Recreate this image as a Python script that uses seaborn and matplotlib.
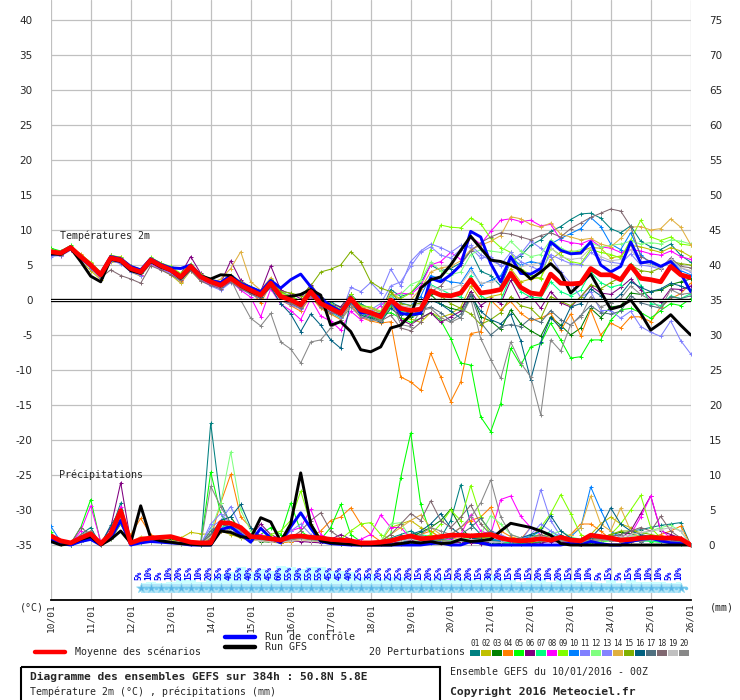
import matplotlib
matplotlib.use("Agg")
import matplotlib.pyplot as plt
from matplotlib.patches import Rectangle
import numpy as np
import seaborn as sns

# 6-hourly steps from 10/01 00Z to 26/01 00Z
steps = np.arange(65)
days = ["10/01", "11/01", "12/01", "13/01", "14/01", "15/01", "16/01", "17/01", "18/01",
        "19/01", "20/01", "21/01", "22/01", "23/01", "24/01", "25/01", "26/01"]

mean_t = [6.9, 6.7, 7.5, 6.2, 5.0, 3.6, 6.0, 5.7, 4.5, 4.0,
          5.7, 4.9, 4.3, 3.3, 4.8, 3.3, 2.6, 2.1, 3.1, 2.1,
          1.4, 0.7, 2.4, 0.5, 0.0, -0.7, 1.2, -0.5, -1.2, -1.9,
          0.2, -1.4, -1.8, -2.4, 0.0, -1.2, -1.5, -1.3, 1.3, 0.7,
          0.6, 1.0, 2.9, 1.0, 1.2, 1.5, 3.8, 1.8, 1.0, 0.8,
          3.7, 2.4, 2.3, 2.4, 4.5, 3.6, 3.6, 2.9, 4.9, 3.1,
          2.9, 2.6, 4.8, 3.6, 3.2]
ctrl_t = [6.5, 6.8, 7.6, 6.0, 4.9, 3.8, 6.2, 5.9, 4.8, 4.3,
          5.9, 5.1, 4.6, 4.5, 5.0, 3.5, 2.8, 2.5, 3.5, 2.4,
          1.8, 1.2, 2.8, 1.7, 2.9, 3.7, 1.9, 0.2, -0.8, -1.6,
          0.4, -1.8, -1.9, -2.1, 0.0, -1.9, -2.1, -1.9, 3.1, 2.6,
          3.6, 5.0, 9.8, 9.0, 5.2, 2.6, 6.2, 3.8, 3.7, 4.5,
          8.3, 7.1, 6.6, 6.7, 8.3, 5.0, 4.0, 4.8, 8.3, 5.3,
          5.5, 4.8, 5.5, 3.8, 1.2]
gfs_t = [6.6, 6.5, 7.4, 5.5, 3.4, 2.6, 5.8, 5.5, 4.2, 3.8,
         5.5, 4.7, 4.2, 3.1, 4.6, 3.4, 3.0, 3.6, 3.5, 2.0,
         1.2, 0.6, 2.2, 0.4, 0.5, 0.8, 1.5, 0.7, -3.6, -3.1,
         -4.5, -7.1, -7.4, -6.7, -4.0, -3.6, -2.1, 1.7, 2.9, 3.3,
         5.0, 7.1, 9.1, 7.4, 5.7, 5.5, 5.0, 4.3, 3.0, 4.0,
         5.2, 3.8, 1.0, 2.4, 3.7, 1.2, -1.3, -0.9, 0.0, -1.9,
         -4.3, -3.3, -2.1, -3.6, -5.0]

mean_p = [1.3, 0.6, 0.3, 1.0, 1.6, 0.2, 1.6, 4.9, 0.3, 0.8,
          1.0, 1.1, 1.2, 0.8, 0.4, 0.3, 0.3, 3.2, 3.1, 2.5,
          1.2, 1.1, 0.9, 0.7, 1.2, 1.3, 1.1, 1.0, 0.8, 0.7,
          0.6, 0.3, 0.3, 0.4, 0.6, 1.0, 1.3, 0.9, 1.0, 1.2,
          1.4, 1.4, 1.3, 1.4, 1.5, 1.0, 0.7, 0.6, 0.7, 0.9,
          0.7, 1.1, 0.7, 0.6, 1.4, 1.2, 1.0, 0.7, 0.8, 1.0,
          1.1, 1.0, 1.0, 0.9, 0.0]
ctrl_p = [0.8, 0.2, 0.0, 0.5, 0.8, 0.0, 1.0, 3.5, 0.0, 0.3,
          0.5, 0.4, 0.3, 0.2, 0.0, 0.0, 0.0, 2.2, 2.6, 1.5,
          0.4, 2.4, 1.0, 0.3, 2.6, 4.6, 2.4, 0.5, 0.2, 0.1,
          0.0, 0.0, 0.0, 0.0, 0.0, 0.0, 0.0, 0.0, 0.2, 0.3,
          0.0, 0.0, 0.5, 0.3, 0.0, 0.0, 0.0, 0.0, 0.0, 0.0,
          0.0, 0.0, 0.3, 0.0, 0.5, 0.2, 0.0, 0.0, 0.5, 0.8,
          1.0, 0.6, 0.3, 0.2, 0.0]
gfs_p = [0.5, 0.0, 0.2, 0.8, 1.2, 0.0, 0.8, 2.0, 0.3, 5.6,
         1.0, 0.6, 0.4, 0.2, 0.1, 0.0, 0.0, 2.0, 1.8, 1.2,
         1.0, 3.9, 3.3, 0.5, 3.0, 10.3, 3.0, 0.6, 0.3, 0.2,
         0.1, 0.0, 0.0, 0.0, 0.0, 0.2, 0.4, 0.3, 0.5, 0.2,
         0.3, 0.8, 0.5, 0.6, 0.8, 2.0, 3.1, 2.8, 2.5, 2.0,
         1.4, 0.2, 0.0, 0.0, 0.0, 0.0, 0.0, 0.0, 0.0, 0.0,
         0.0, 0.0, 0.0, 0.0, 0.0]

# 20 perturbations, temperature 2m (°C)
t01 = [7.0, 6.6, 7.3, 6.0, 4.8, 3.4, 5.8, 5.9, 4.6, 4.2,
       5.5, 4.6, 4.4, 3.6, 4.9, 3.6, 2.9, 2.4, 3.4, 2.6,
       1.9, 1.3, 2.9, 1.1, 0.6, -0.2, 1.6, 0.4, -0.3, -1.0,
       0.8, -0.6, -1.2, -1.8, 1.5, 0.5, 1.0, 2.4, 5.0, 4.2,
       4.5, 5.3, 7.0, 4.1, 3.5, 2.0, 5.5, 6.3, 7.8, 8.6,
       9.8, 10.5, 11.5, 12.3, 12.4, 11.7, 10.2, 9.6, 10.6, 8.4,
       7.6, 7.2, 8.0, 6.4, 5.4]
t02 = [6.6, 6.4, 7.2, 5.6, 4.2, 2.9, 5.5, 5.3, 4.0, 3.4,
       5.2, 4.4, 3.6, 2.4, 4.2, 2.7, 2.3, 2.0, 2.8, 1.8,
       1.1, 0.3, 2.0, 0.1, -0.5, -1.0, 0.8, -0.6, -1.4, -2.2,
       -0.2, -1.5, -2.2, -2.8, -1.0, -2.6, -2.7, -3.2, -1.8, -2.5,
       -2.0, -1.0, 2.0, 0.0, 0.5, 0.8, 4.5, 2.6, 3.0, 3.2,
       5.8, 6.8, 7.0, 6.9, 7.5, 7.4, 6.0, 6.3, 7.8, 7.6,
       7.2, 6.8, 7.5, 7.0, 6.2]
t03 = [7.2, 6.9, 7.6, 6.4, 5.3, 3.9, 6.3, 5.8, 4.7, 4.1,
       5.9, 5.0, 4.5, 3.5, 4.9, 3.2, 2.5, 2.0, 3.3, 2.3,
       1.5, 0.9, 2.6, 0.6, -0.2, -1.0, 0.9, -0.9, -1.6, -2.4,
       -0.4, -2.0, -2.4, -3.0, -0.6, -1.8, -2.4, -2.0, 0.8, -0.6,
       -1.2, -1.5, 1.2, -2.4, -3.0, -4.2, -1.4, -3.4, -4.4, -5.2,
       -2.4, -3.6, -5.0, -4.0, -1.2, -2.5, -1.0, -0.8, 1.0, 0.8,
       1.2, 1.4, 2.2, 2.6, 3.0]
t04 = [6.8, 6.8, 7.4, 6.6, 5.3, 3.8, 6.1, 6.2, 4.3, 3.6,
       5.6, 4.7, 4.0, 2.7, 4.6, 3.0, 2.1, 1.8, 2.7, 1.5,
       1.3, -0.4, 2.2, 0.0, -0.8, -1.6, 0.5, -1.2, -2.0, -2.8,
       -0.6, -2.5, -3.0, -3.3, -3.1, -11.0, -11.7, -12.9, -7.6, -11.0,
       -14.5, -11.7, -4.8, -4.5, 0.0, -1.4, -0.2, -1.9, -2.9, -2.6,
       -1.9, -4.3, -2.0, -5.1, -1.4, -5.0, -3.3, -4.0, -2.4, -2.4,
       -3.1, -1.0, 0.2, 0.9, 2.4]
t05 = [7.4, 7.0, 7.8, 6.3, 5.1, 3.7, 6.2, 5.6, 4.6, 4.1,
       5.8, 5.0, 4.5, 3.4, 4.9, 3.4, 2.8, 2.3, 3.4, 2.4,
       1.6, 1.0, 2.9, 0.8, 0.4, -0.3, 1.5, -0.1, -0.8, -1.4,
       0.6, -1.0, -1.6, -2.2, -1.8, -2.6, -3.2, -2.6, -1.8, -2.9,
       -5.5, -9.0, -9.3, -16.7, -18.8, -14.8, -6.9, -9.3, -6.7, -6.2,
       -3.3, -5.7, -8.3, -8.1, -5.7, -5.7, -2.9, -1.4, -1.2, -1.8,
       -2.6, -1.5, -0.5, -0.8, 0.2]
t06 = [6.9, 6.8, 7.5, 6.3, 5.2, 3.9, 6.4, 6.0, 4.8, 4.4,
       6.0, 5.3, 4.6, 3.7, 6.2, 3.8, 2.9, 2.4, 5.6, 2.8,
       1.8, 1.2, 4.9, 1.4, 0.9, 0.2, 2.2, 0.4, -0.6, -1.0,
       0.8, -1.2, -1.6, -2.0, 0.4, -2.8, -3.5, -2.6, -1.8, -3.2,
       -2.4, -1.6, 1.2, -0.8, 0.2, -0.5, 2.8, 0.0, 0.6, -1.2,
       1.2, -0.4, -1.0, 0.5, 2.0, 1.0, 0.8, 1.8, 3.0, 1.5,
       0.2, -0.3, 1.6, 1.5, 2.0]
t07 = [6.7, 6.5, 7.3, 6.1, 4.9, 3.5, 5.9, 5.6, 4.4, 3.9,
       5.6, 4.8, 4.2, 3.2, 4.7, 3.2, 2.5, 2.0, 3.0, 2.0,
       1.2, 0.4, 2.2, 0.3, -0.3, -1.2, 0.8, -1.0, -1.8, -2.6,
       -0.3, -1.9, -2.3, -2.9, -0.8, -1.5, -1.9, -1.2, 2.2, 1.5,
       0.8, 0.4, 3.5, 0.6, -0.2, 0.0, 3.4, 1.2, 0.4, 0.3,
       2.6, 1.2, 0.6, 1.4, 4.0, 2.5, 1.8, 2.2, 5.2, 2.0,
       -0.5, -0.8, 0.6, 0.2, 0.9]
t08 = [6.5, 6.3, 7.2, 5.9, 4.6, 3.1, 5.6, 5.3, 4.1, 3.6,
       5.2, 4.4, 3.9, 2.8, 4.3, 2.9, 2.2, 1.6, 2.7, 1.4,
       0.4, -2.4, 1.6, -0.6, -1.5, -2.8, 0.2, -2.3, -3.0, -4.3,
       -1.6, -2.8, -2.0, -0.8, 0.5, 1.0, 0.8, 2.0, 5.0, 5.5,
       6.8, 5.8, 9.0, 8.0, 9.8, 11.4, 11.6, 11.2, 11.4, 10.6,
       10.8, 8.6, 8.2, 8.0, 8.6, 7.6, 7.4, 6.8, 7.2, 7.0,
       6.6, 6.4, 7.0, 6.2, 5.8]
t09 = [7.1, 6.9, 7.7, 6.5, 5.4, 4.0, 6.4, 6.1, 4.9, 4.4,
       6.1, 5.3, 4.8, 3.8, 5.2, 3.7, 3.0, 2.6, 3.6, 2.6,
       1.9, 1.2, 3.0, 1.0, 0.6, -0.2, 1.8, 0.1, -0.6, -1.3,
       0.8, -0.8, -1.0, -1.6, 0.8, 0.2, 1.0, 2.8, 7.2, 10.7,
       10.4, 10.3, 11.7, 10.9, 8.8, 7.5, 6.8, 4.5, 3.6, 3.0,
       7.4, 6.4, 5.5, 5.2, 7.2, 6.8, 6.5, 6.0, 8.6, 11.4,
       9.0, 8.5, 9.0, 8.0, 7.8]
t10 = [6.6, 6.6, 7.4, 6.2, 5.0, 3.7, 6.1, 5.8, 4.6, 4.0,
       5.8, 5.0, 4.4, 3.4, 4.9, 3.4, 2.7, 2.2, 3.2, 2.2,
       1.5, 0.8, 2.5, 0.6, 0.1, -0.6, 1.3, -0.4, -1.1, -1.8,
       0.3, -1.3, -1.7, -2.3, 0.6, -0.4, -0.8, 0.5, 3.5, 3.0,
       2.6, 2.4, 4.6, 2.2, 2.8, 3.5, 6.0, 5.0, 5.5, 5.2,
       8.0, 8.8, 9.5, 10.2, 11.8, 10.5, 8.0, 7.2, 9.6, 6.5,
       5.2, 4.6, 5.8, 4.2, 3.6]
t11 = [6.4, 6.3, 7.1, 5.8, 4.5, 3.2, 5.6, 5.2, 4.0, 3.5,
       5.3, 4.5, 3.8, 2.6, 4.4, 2.8, 2.0, 1.4, 2.5, 1.6,
       0.8, 0.2, 1.8, 0.0, -0.7, -1.3, 0.6, -0.8, -1.5, -2.2,
       1.8, 1.2, 2.5, 1.0, 4.4, 2.0, 5.5, 7.0, 8.0, 7.5,
       6.8, 7.8, 7.5, 6.0, 6.2, 4.8, 5.5, 6.6, 8.4, 7.4,
       6.2, 4.0, 2.4, 0.4, 1.2, -1.5, -1.5, -2.6, -1.6, -3.8,
       -4.6, -5.2, -3.0, -5.8, -7.7]
t12 = [7.0, 6.7, 7.5, 6.3, 5.1, 3.6, 6.0, 5.8, 4.6, 4.1,
       5.7, 5.0, 4.4, 3.4, 4.8, 3.4, 2.7, 2.1, 3.2, 2.2,
       1.5, 0.8, 2.4, 0.6, 0.0, -0.6, 1.3, -0.4, -1.1, -1.8,
       0.2, -1.2, -1.5, -1.9, 0.5, 0.8, 2.2, 2.8, 5.4, 4.2,
       3.6, 4.0, 6.5, 7.2, 7.0, 6.8, 8.4, 7.0, 6.2, 6.5,
       8.6, 7.4, 6.8, 7.2, 8.2, 7.6, 7.8, 8.0, 8.4, 8.0,
       8.2, 8.0, 8.6, 8.4, 8.0]
t13 = [6.2, 6.4, 7.3, 6.0, 4.7, 3.3, 5.8, 5.5, 4.3, 3.8,
       5.5, 4.7, 4.1, 3.0, 4.5, 3.0, 2.3, 1.8, 2.9, 1.9,
       1.1, 0.4, 2.1, 0.2, -0.5, -1.2, 0.7, -0.9, -1.7, -2.5,
       -0.4, -2.0, -1.4, -0.5, 2.0, 2.6, 4.8, 6.8, 7.6, 6.4,
       6.0, 7.2, 7.8, 6.5, 5.6, 5.0, 6.8, 5.5, 4.8, 4.2,
       6.5, 5.8, 5.2, 5.0, 6.8, 5.8, 5.4, 5.2, 6.6, 5.0,
       4.8, 4.4, 6.0, 4.6, 4.0]
t14 = [7.1, 6.9, 7.6, 6.5, 5.3, 3.9, 6.2, 5.9, 4.7, 4.2,
       5.8, 5.0, 4.5, 2.6, 5.0, 3.3, 2.4, 3.0, 4.5, 6.9,
       2.6, 1.4, 3.2, 0.9, 0.4, -0.3, 1.6, 0.0, -0.8, -1.5,
       0.4, -1.0, -1.2, -1.8, 1.2, 0.0, 0.0, 1.6, 4.0, 4.6,
       4.8, 5.6, 7.2, 7.8, 8.4, 9.2, 11.9, 11.6, 10.8, 10.4,
       11.0, 9.4, 9.0, 8.6, 8.8, 8.0, 7.6, 8.8, 10.4, 10.5,
       10.0, 10.2, 11.6, 10.4, 7.9]
t15 = [6.8, 6.5, 7.3, 6.0, 4.8, 3.5, 5.9, 5.6, 4.4, 3.9,
       5.6, 4.8, 4.2, 3.2, 4.6, 3.2, 2.6, 2.2, 3.3, 2.5,
       1.8, 1.1, 2.9, 1.2, 1.0, 0.6, 2.0, 4.0, 4.4, 5.0,
       6.9, 5.5, 2.6, 1.7, 1.2, -0.5, -0.8, -0.4, 1.5, 0.6,
       -0.5, -1.2, -2.0, -3.5, -2.8, -1.8, 0.5, -0.8, -1.2, -2.6,
       0.5, -0.2, -0.8, 0.4, 2.2, 1.6, 2.5, 3.2, 5.0, 4.2,
       4.0, 4.6, 5.5, 5.2, 5.0]
t16 = [6.9, 6.7, 7.4, 6.1, 4.8, 3.4, 5.9, 5.5, 4.3, 3.8,
       5.6, 4.8, 4.1, 3.2, 4.6, 3.1, 2.4, 1.9, 2.9, 1.9,
       1.2, 0.5, 1.8, -0.5, -2.0, -4.5, -2.0, -3.6, -5.7, -6.9,
       -0.2, -2.2, -2.6, -3.2, -1.2, -2.2, -1.6, -1.8, 0.0, -0.6,
       -1.6, -2.6, 0.6, -1.6, -2.8, -3.4, -2.0, -5.8, -11.4, -6.0,
       -2.5, -4.0, -1.0, -0.5, 1.6, 0.6, -0.4, 0.8, 2.6, 1.8,
       1.2, 1.6, 2.4, 2.0, 1.4]
t17 = [6.7, 6.6, 7.4, 6.2, 5.0, 3.6, 6.0, 5.7, 4.5, 4.0,
       5.7, 4.9, 4.3, 3.3, 4.8, 3.3, 2.6, 2.1, 3.1, 2.1,
       1.4, 0.7, 2.3, 0.4, -0.1, -0.9, 1.0, -0.7, -1.4, -2.2,
       -0.3, -1.8, -1.8, -2.3, -0.6, -2.0, -2.2, -1.4, -1.0, -1.8,
       -3.0, -2.0, 0.8, -3.2, -5.0, -3.8, -3.5, -3.8, -2.6, -3.2,
       -1.5, -2.8, -3.6, -2.2, -0.8, -1.8, -2.0, -1.6, 0.6, -0.4,
       -0.8, -1.2, 0.5, 0.2, 0.6]
t18 = [6.6, 6.5, 7.3, 5.9, 4.6, 3.2, 4.3, 3.5, 3.0, 2.4,
       4.9, 4.3, 3.6, 2.8, 4.2, 2.7, 2.1, 1.6, 2.6, 1.6,
       0.9, 0.2, 1.9, 0.1, -0.5, -1.2, 0.7, -1.0, -1.8, -2.0,
       0.0, -1.5, -2.2, -3.0, -2.2, -4.0, -4.4, -3.2, 1.2, 2.0,
       3.8, 5.0, 7.0, 8.2, 9.0, 9.6, 9.4, 9.0, 8.6, 9.2,
       9.6, 9.0, 10.2, 11.0, 11.8, 12.4, 13.0, 12.7, 10.5, 6.2,
       5.5, 4.5, 6.0, 4.8, 4.6]
t19 = [7.0, 6.8, 7.6, 6.3, 5.1, 3.7, 6.1, 5.8, 4.6, 4.1,
       5.8, 5.0, 4.4, 3.4, 4.9, 3.4, 2.7, 2.2, 3.2, 2.2,
       1.5, 0.8, 2.5, 0.6, 0.1, -0.6, 1.3, -0.4, -1.1, -1.8,
       0.3, -1.3, -1.6, -2.2, 0.2, -0.8, -1.0, -0.6, 2.0, 1.4,
       1.6, 2.2, 4.2, 2.4, 2.6, 3.0, 5.4, 4.8, 5.0, 5.4,
       7.5, 6.2, 5.8, 6.0, 7.4, 6.2, 5.6, 5.8, 7.2, 5.4,
       5.0, 4.6, 5.8, 4.6, 4.2]
t20 = [6.8, 6.6, 7.6, 6.2, 4.9, 3.5, 5.9, 5.6, 4.4, 3.9,
       5.6, 4.8, 4.2, 3.2, 4.7, 3.2, 2.5, 2.0, 3.0, 0.0,
       -2.6, -3.7, -1.9, -6.0, -7.0, -9.0, -6.0, -5.7, -4.0, -2.9,
       -1.0, -2.4, -2.8, -3.0, 0.0, -3.5, -3.8, -1.5, -1.2, -2.5,
       -3.2, -2.5, 0.2, -5.5, -8.5, -11.2, -6.0, -9.0, -11.0, -16.4,
       -5.7, -7.3, -3.5, -2.4, 0.5, -1.0, -0.4, 0.2, 2.0, 0.8,
       0.0, -1.2, 1.5, 0.8, 1.0]

# 20 perturbations, precipitation per 6h (mm)
p01 = [1.2, 0.4, 0.2, 1.5, 2.5, 0.0, 2.0, 6.0, 0.2, 0.5,
       0.8, 1.2, 1.0, 0.5, 0.2, 0.0, 17.4, 6.0, 3.0, 1.5,
       0.8, 1.5, 0.8, 0.5, 0.6, 1.0, 0.8, 0.5, 0.4, 0.3,
       0.2, 0.1, 0.2, 0.5, 1.0, 1.5, 2.0, 1.2, 0.6, 1.0,
       3.5, 8.6, 3.0, 1.5, 1.0, 0.5, 0.3, 0.4, 0.2, 0.5,
       0.8, 1.5, 0.6, 0.4, 1.0, 0.8, 1.2, 1.5, 2.0, 2.2,
       2.5, 2.8, 3.0, 3.2, 0.0]
p02 = [1.0, 0.3, 0.1, 0.6, 1.0, 0.1, 1.2, 3.5, 0.2, 0.6,
       0.8, 0.6, 0.5, 1.0, 1.8, 1.6, 1.5, 2.0, 1.5, 1.0,
       0.6, 0.8, 0.5, 0.3, 0.5, 0.8, 0.6, 0.4, 0.3, 0.2,
       0.1, 0.0, 0.1, 0.5, 2.5, 3.0, 3.5, 2.5, 2.0, 1.0,
       0.5, 0.8, 1.5, 1.0, 0.6, 0.4, 0.3, 0.8, 1.2, 1.5,
       1.0, 0.5, 0.3, 0.2, 1.5, 3.0, 4.0, 3.0, 2.5, 1.5,
       1.0, 0.8, 0.5, 0.3, 0.0]
p03 = [1.5, 0.2, 0.0, 1.2, 2.0, 0.2, 1.5, 4.5, 0.1, 0.6,
       1.2, 1.0, 0.8, 0.6, 0.2, 0.1, 1.2, 3.5, 4.0, 2.0,
       1.0, 0.5, 0.4, 0.3, 0.8, 1.2, 0.8, 0.5, 0.3, 0.2,
       0.2, 0.1, 0.2, 0.3, 0.2, 0.5, 1.2, 1.8, 2.5, 3.5,
       5.1, 2.5, 1.0, 0.5, 0.3, 0.2, 0.1, 0.2, 0.5, 0.8,
       0.6, 0.4, 0.3, 0.2, 0.5, 1.0, 1.5, 1.8, 1.6, 1.2,
       1.0, 0.8, 0.6, 0.4, 0.0]
p04 = [0.8, 0.2, 0.1, 0.5, 1.0, 0.0, 1.0, 3.0, 1.5, 3.8,
       1.5, 0.8, 0.5, 0.3, 0.2, 0.2, 1.0, 6.0, 10.1, 4.0,
       2.5, 0.8, 0.5, 0.3, 0.5, 1.0, 1.2, 2.0, 3.5, 4.0,
       5.3, 3.0, 1.5, 0.5, 0.3, 0.2, 0.8, 1.5, 2.0, 1.0,
       1.5, 2.5, 3.5, 4.0, 5.4, 2.0, 1.2, 0.8, 2.5, 2.0,
       1.0, 0.8, 1.5, 3.0, 3.0, 2.0, 0.8, 0.5, 0.5, 0.8,
       1.0, 1.5, 2.0, 2.7, 0.0]
p05 = [1.8, 0.3, 0.2, 2.5, 6.5, 0.3, 1.5, 4.0, 0.2, 0.5,
       0.8, 0.6, 0.4, 0.3, 0.2, 0.1, 10.4, 4.5, 2.0, 1.2,
       0.8, 1.5, 2.5, 1.5, 6.0, 2.0, 1.0, 0.8, 2.5, 5.8,
       1.5, 0.5, 0.3, 0.5, 1.5, 9.6, 16.0, 5.8, 1.5, 0.8,
       0.5, 0.3, 0.8, 1.2, 0.6, 0.4, 0.5, 0.3, 0.2, 0.4,
       0.8, 1.2, 0.6, 0.4, 0.3, 0.5, 0.6, 0.8, 1.0, 0.8,
       0.5, 0.4, 0.3, 0.2, 0.0]
p06 = [1.0, 0.2, 0.0, 0.8, 1.5, 0.2, 2.5, 8.9, 0.5, 0.4,
       0.6, 0.5, 0.4, 0.3, 0.1, 0.0, 0.8, 2.5, 2.0, 1.5,
       1.2, 3.0, 1.5, 0.8, 0.6, 0.5, 0.4, 0.3, 0.8, 1.5,
       0.8, 0.3, 0.1, 0.2, 0.3, 0.4, 0.6, 0.8, 0.5, 0.3,
       0.2, 0.4, 0.3, 0.2, 0.5, 0.8, 0.6, 0.4, 0.2, 0.3,
       0.5, 0.4, 0.3, 0.2, 0.4, 0.6, 0.8, 1.0, 2.0, 4.5,
       7.0, 2.0, 1.5, 1.0, 0.0]
p07 = [0.6, 0.1, 0.0, 0.4, 0.8, 0.1, 0.8, 3.0, 0.2, 0.3,
       0.5, 0.4, 0.3, 0.2, 0.1, 0.0, 1.5, 2.5, 3.0, 1.8,
       1.0, 0.8, 0.6, 0.5, 0.8, 1.5, 1.2, 0.8, 0.5, 0.3,
       0.2, 0.1, 0.1, 0.2, 0.5, 0.8, 1.0, 1.5, 1.2, 0.8,
       0.6, 0.8, 1.0, 1.2, 0.8, 0.5, 0.3, 0.6, 1.5, 1.0,
       2.0, 1.0, 0.6, 0.4, 0.6, 0.8, 1.0, 0.8, 0.6, 0.5,
       0.6, 0.4, 0.3, 0.2, 0.0]
p08 = [1.2, 0.3, 0.2, 2.0, 5.6, 0.5, 1.5, 5.5, 0.3, 0.5,
       0.6, 0.5, 0.4, 0.3, 0.2, 0.1, 1.0, 2.0, 2.5, 1.5,
       0.8, 1.5, 1.0, 0.8, 2.0, 2.5, 5.1, 1.5, 0.8, 0.5,
       0.5, 0.8, 1.5, 4.3, 2.5, 2.5, 1.0, 0.5, 0.8, 0.6,
       0.8, 1.5, 4.3, 2.0, 1.5, 6.5, 7.0, 4.1, 2.5, 1.5,
       0.8, 0.6, 0.4, 0.3, 0.5, 0.8, 0.6, 0.5, 1.5, 4.0,
       7.0, 2.2, 1.0, 0.8, 0.0]
p09 = [0.8, 0.2, 0.1, 0.6, 1.2, 0.1, 1.0, 3.5, 0.3, 0.5,
       0.5, 0.4, 0.3, 0.2, 0.1, 0.1, 1.5, 3.0, 2.5, 1.5,
       1.0, 1.2, 1.5, 2.0, 3.5, 7.7, 3.0, 1.0, 0.6, 0.8,
       2.0, 3.0, 3.2, 1.5, 0.8, 0.5, 0.4, 0.8, 1.5, 3.0,
       5.0, 3.5, 8.5, 4.0, 1.5, 0.8, 0.5, 0.4, 1.0, 2.5,
       4.5, 7.2, 4.5, 1.5, 0.8, 0.6, 1.5, 3.0, 5.0, 7.1,
       2.5, 1.0, 0.8, 0.5, 0.0]
p10 = [2.7, 0.5, 0.2, 0.8, 1.5, 0.1, 1.2, 4.2, 0.2, 0.4,
       0.6, 0.5, 0.4, 0.3, 0.2, 0.1, 1.5, 3.0, 2.5, 1.6,
       1.2, 1.0, 0.8, 0.5, 1.0, 1.5, 1.0, 0.6, 0.4, 0.3,
       0.2, 0.1, 0.2, 0.3, 0.5, 0.6, 0.5, 0.4, 0.3, 0.4,
       0.5, 0.6, 0.8, 1.0, 0.8, 0.6, 0.5, 0.8, 1.2, 2.0,
       1.5, 1.0, 1.2, 2.5, 8.3, 5.0, 2.0, 1.0, 0.6, 0.8,
       1.2, 1.0, 0.8, 0.5, 0.0]
p11 = [0.8, 0.2, 0.1, 0.5, 0.8, 0.1, 1.0, 3.8, 0.3, 0.6,
       0.8, 0.6, 0.5, 0.4, 0.2, 0.1, 2.5, 3.5, 5.5, 2.5,
       1.5, 1.0, 0.8, 0.6, 1.0, 1.2, 0.8, 0.6, 0.4, 0.3,
       0.2, 0.2, 0.3, 0.4, 0.5, 0.6, 0.8, 1.0, 0.8, 0.6,
       0.5, 0.8, 1.0, 1.5, 2.0, 1.5, 0.8, 0.6, 2.5, 7.9,
       3.5, 1.2, 0.8, 0.6, 0.5, 0.8, 1.0, 0.8, 0.6, 0.5,
       0.8, 1.0, 0.8, 0.5, 0.0]
p12 = [1.0, 0.3, 0.2, 0.8, 1.5, 0.2, 1.0, 4.0, 0.2, 0.5,
       0.6, 0.5, 0.4, 0.3, 0.2, 0.1, 2.0, 6.0, 13.3, 5.0,
       2.0, 1.0, 0.8, 0.5, 0.8, 1.2, 0.8, 0.6, 0.5, 0.4,
       0.3, 0.2, 0.3, 0.5, 3.0, 3.2, 1.0, 0.8, 0.6, 0.5,
       0.6, 0.8, 1.0, 1.5, 4.2, 3.0, 1.5, 1.0, 0.8, 1.2,
       1.5, 2.0, 1.2, 0.8, 0.6, 0.5, 0.8, 1.0, 1.2, 1.5,
       2.0, 2.5, 2.8, 2.0, 0.0]
p13 = [0.6, 0.2, 0.1, 0.4, 1.0, 0.1, 1.2, 4.5, 0.2, 0.4,
       0.5, 0.4, 0.3, 0.2, 0.1, 0.1, 3.0, 4.5, 3.0, 1.8,
       1.0, 0.8, 0.6, 0.4, 2.0, 3.0, 1.5, 0.8, 0.5, 0.3,
       0.2, 0.1, 0.2, 0.4, 0.6, 0.8, 1.2, 1.0, 0.8, 0.6,
       0.5, 0.6, 0.8, 0.6, 0.5, 0.4, 0.6, 0.8, 1.5, 3.0,
       2.0, 1.2, 0.8, 0.6, 0.5, 0.8, 1.0, 0.8, 0.6, 0.8,
       1.0, 0.8, 0.6, 0.4, 0.0]
p14 = [0.9, 0.2, 0.1, 0.6, 1.2, 0.1, 1.0, 3.5, 0.4, 1.2,
       1.0, 0.8, 0.6, 0.4, 0.2, 0.1, 1.2, 2.5, 2.0, 1.5,
       0.8, 0.6, 0.5, 0.4, 0.6, 0.8, 0.6, 0.5, 0.4, 0.3,
       0.2, 0.1, 0.2, 0.5, 1.5, 2.5, 3.5, 4.3, 2.5, 1.5,
       1.0, 0.8, 0.6, 0.8, 1.2, 1.0, 0.8, 0.6, 0.8, 1.0,
       1.2, 1.0, 1.5, 2.5, 7.0, 3.0, 2.0, 5.3, 2.0, 1.0,
       0.8, 0.6, 0.5, 0.4, 0.0]
p15 = [0.7, 0.2, 0.1, 0.5, 1.0, 0.1, 0.8, 3.0, 0.2, 0.4,
       0.5, 0.4, 0.3, 0.2, 0.1, 0.1, 1.0, 2.0, 2.5, 1.5,
       1.0, 0.8, 0.6, 0.5, 0.8, 1.0, 0.8, 0.6, 0.4, 0.3,
       0.2, 0.1, 0.1, 0.3, 0.6, 1.0, 1.5, 1.2, 0.8, 0.6,
       0.5, 0.6, 0.8, 1.0, 1.2, 1.0, 0.8, 0.6, 0.5, 0.8,
       1.0, 0.8, 0.6, 0.5, 0.8, 1.0, 1.5, 2.0, 2.0, 1.8,
       1.5, 1.2, 1.0, 0.8, 0.0]
p16 = [1.0, 0.3, 0.1, 0.6, 1.2, 0.1, 2.8, 5.0, 0.3, 0.5,
       0.6, 0.5, 0.4, 0.3, 0.2, 0.1, 1.5, 3.5, 4.0, 5.8,
       2.5, 1.2, 0.8, 0.6, 1.0, 1.5, 1.0, 0.8, 0.5, 0.4,
       0.3, 0.2, 0.3, 0.5, 0.8, 1.0, 1.5, 2.0, 3.0, 4.5,
       2.5, 1.5, 1.0, 0.8, 0.6, 0.5, 0.8, 1.0, 1.5, 2.0,
       4.2, 2.0, 1.0, 0.8, 1.0, 2.5, 5.3, 3.0, 2.0, 1.5,
       1.2, 1.0, 0.8, 0.5, 0.0]
p17 = [0.8, 0.2, 0.1, 0.5, 0.9, 0.1, 1.0, 3.5, 0.2, 0.4,
       0.6, 0.5, 0.4, 0.3, 0.2, 0.1, 2.0, 3.0, 2.5, 1.5,
       1.0, 0.8, 0.6, 0.5, 0.8, 1.0, 0.8, 0.6, 0.5, 0.4,
       0.3, 0.2, 0.2, 0.3, 0.5, 0.8, 1.0, 0.8, 0.6, 0.8,
       1.0, 1.5, 2.5, 3.8, 2.0, 1.0, 0.8, 0.6, 0.8, 1.0,
       0.8, 0.6, 0.5, 0.4, 0.6, 0.8, 1.0, 0.8, 0.6, 0.5,
       0.8, 0.6, 0.5, 0.4, 0.0]
p18 = [0.9, 0.3, 0.2, 2.5, 1.5, 0.2, 1.0, 3.5, 0.3, 0.5,
       0.6, 0.5, 0.4, 0.3, 0.2, 0.1, 1.5, 2.5, 2.0, 1.5,
       1.0, 0.8, 0.6, 0.5, 1.0, 2.0, 3.5, 4.6, 2.0, 1.0,
       0.5, 0.3, 0.2, 0.5, 1.5, 3.0, 4.5, 3.5, 6.3, 3.5,
       2.5, 4.0, 5.7, 3.0, 1.5, 0.8, 0.6, 0.8, 1.0, 1.5,
       1.0, 0.8, 0.6, 0.5, 0.8, 1.0, 1.2, 1.5, 2.0, 2.5,
       2.0, 4.1, 2.0, 1.0, 0.0]
p19 = [0.7, 0.2, 0.1, 0.4, 0.8, 0.1, 0.9, 3.2, 0.2, 0.4,
       0.5, 0.4, 0.3, 0.2, 0.1, 0.1, 1.2, 2.5, 2.0, 1.2,
       0.8, 0.6, 0.5, 0.4, 0.6, 0.8, 0.6, 0.5, 0.4, 0.3,
       0.2, 0.1, 0.1, 0.2, 0.4, 0.6, 0.8, 0.6, 0.5, 0.4,
       0.5, 0.6, 0.8, 0.6, 0.5, 0.4, 0.6, 0.8, 1.0, 1.2,
       1.0, 0.8, 0.6, 0.5, 0.6, 0.8, 1.0, 1.2, 1.5, 1.8,
       2.0, 2.2, 2.5, 2.0, 0.0]
p20 = [1.0, 0.3, 0.1, 1.5, 2.0, 0.2, 1.2, 4.0, 0.3, 0.5,
       0.6, 0.5, 0.4, 0.3, 0.2, 0.1, 8.4, 5.5, 3.0, 2.0,
       1.2, 1.0, 0.8, 0.6, 0.8, 1.0, 0.8, 0.6, 0.4, 0.3,
       0.2, 0.1, 0.2, 0.3, 0.5, 0.8, 1.0, 1.5, 2.5, 2.0,
       1.5, 2.5, 4.0, 6.0, 9.3, 4.0, 1.5, 1.0, 0.8, 0.6,
       0.8, 0.6, 0.5, 0.4, 0.6, 0.8, 0.6, 0.5, 0.4, 0.6,
       0.8, 0.6, 0.5, 0.4, 0.0]

pert_temps = [t01, t02, t03, t04, t05, t06, t07, t08, t09, t10,
              t11, t12, t13, t14, t15, t16, t17, t18, t19, t20]
pert_precs = [p01, p02, p03, p04, p05, p06, p07, p08, p09, p10,
              p11, p12, p13, p14, p15, p16, p17, p18, p19, p20]
pert_names = ["01", "02", "03", "04", "05", "06", "07", "08", "09", "10",
              "11", "12", "13", "14", "15", "16", "17", "18", "19", "20"]
pert_colors = ["#008080", "#c0c000", "#008000", "#ff8000", "#00ff00", "#800080",
               "#00ff80", "#ff00ff", "#80ff00", "#0080ff", "#8080ff", "#80ff80",
               "#8484ff", "#e0b040", "#80b000", "#006080", "#507080", "#806870",
               "#c0c0c0", "#888888"]

# probability labels shown from 12/01 06Z (step 9) to 25/01 18Z (step 63)
prob_first = 9
snow_prob = [5, 10, 5, 10, 20, 15, 10, 20, 35, 40, 55, 40, 50, 45, 60, 55, 50, 55, 55,
             45, 45, 40, 25, 35, 20, 25, 25, 20, 15, 20, 25, 15, 20, 20, 15, 30, 20,
             15, 10, 15, 20, 10, 20, 15, 10, 10, 5, 15, 5, 15, 10, 10, 10, 5, 10]

PRECIP_ZERO = -35  # precipitation 0 mm sits on the -35 °C line
MONO = "DejaVu Sans Mono"

sns.set_style("white")
plt.rcParams["font.family"] = ["DejaVu Sans"]

fig = plt.figure(figsize=(7.4, 7.0), dpi=100)
ax = fig.add_axes([50.7 / 740, 100 / 700, 640 / 740, 600 / 700])
ax.set_xlim(0, 64)
ax.set_ylim(-300 / 7, 300 / 7)

# grid
ax.set_xticks(range(0, 65, 4))
ax.set_xticklabels(days, rotation=90, fontsize=6.8, family=MONO, va="top")
ax.set_yticks(range(-35, 45, 5))
ax.set_yticklabels([str(v) for v in range(-35, 45, 5)], fontsize=7.5)
ax.tick_params(axis="x", length=0, pad=2)
ax.tick_params(axis="y", length=0, pad=13)
ax.grid(True, color="#c0c0c0", lw=0.9)
ax.set_axisbelow(True)
for side in ["left", "right", "top"]:
    ax.spines[side].set_visible(False)
ax.spines["bottom"].set_color("black")
ax.spines["bottom"].set_linewidth(1.3)

sec = ax.secondary_yaxis("right", functions=(lambda t: t - PRECIP_ZERO, lambda p: p + PRECIP_ZERO))
sec.set_yticks(range(0, 80, 5))
sec.set_yticklabels([str(v) for v in range(0, 80, 5)], fontsize=7.5)
sec.tick_params(length=0, pad=13)
sec.spines["right"].set_visible(False)

# perturbations
for vals, prec, col in zip(pert_temps, pert_precs, pert_colors):
    sns.lineplot(x=steps, y=vals, color=col, lw=0.75, marker="+", markersize=3,
                 markeredgecolor=col, markeredgewidth=0.7, ax=ax, zorder=2)
    sns.lineplot(x=steps, y=np.array(prec) + PRECIP_ZERO, color=col, lw=0.75, marker="+",
                 markersize=3, markeredgecolor=col, markeredgewidth=0.7, ax=ax, zorder=2)

# 0 °C double line
ax.axhline(0, color="black", lw=2.4, zorder=3)
ax.axhline(0, color="white", lw=0.7, zorder=3)

# control, GFS, mean
sns.lineplot(x=steps, y=ctrl_t, color="#0000ff", lw=2.1, ax=ax, zorder=4)
sns.lineplot(x=steps, y=np.array(ctrl_p) + PRECIP_ZERO, color="#0000ff", lw=2.1, ax=ax, zorder=4)
sns.lineplot(x=steps, y=gfs_t, color="black", lw=2.1, ax=ax, zorder=4)
sns.lineplot(x=steps, y=np.array(gfs_p) + PRECIP_ZERO, color="black", lw=2.1, ax=ax, zorder=4)
sns.lineplot(x=steps, y=mean_t, color="#ff0000", lw=3.4, ax=ax, zorder=5)
sns.lineplot(x=steps, y=np.array(mean_p) + PRECIP_ZERO, color="#ff0000", lw=3.4, ax=ax, zorder=5)

# probability strip with snow icons
prob_steps = steps[prob_first:prob_first + len(snow_prob)]
prob_arr = np.array(snow_prob)
ax.fill_between(prob_steps, -285 / 7, -285 / 7 + prob_arr * 0.32 / 7, step="mid",
                color="#ccffff", lw=0, zorder=1)
ax.fill_between(prob_steps, -283.5 / 7, -292.5 / 7, step="mid", color="#b4e4f8", lw=0, zorder=1.5)
ax.scatter(prob_steps, np.full(len(prob_steps), -288 / 7), marker="*", s=55, color="#5ab4e6",
           edgecolors="#8fdcf2", linewidths=0.5, zorder=1.6)
ax.scatter(prob_steps + 0.5, np.full(len(prob_steps), -288 / 7), marker="o", s=6, color="#6fc6ee",
           lw=0, zorder=1.6)
for k, p in zip(prob_steps, snow_prob):
    ax.text(k - 0.15, -280 / 7, f"{p}%", rotation=90, ha="center", va="bottom",
            color="#0000ff", fontsize=5.6, family=MONO, fontweight="bold", zorder=6)

# overlay in pixel coordinates for free text and legend
ov = fig.add_axes([0, 0, 1, 1])
ov.set_xlim(0, 740)
ov.set_ylim(700, 0)
ov.axis("off")
ov.patch.set_alpha(0)

ov.text(60, 236, "Températures 2m", fontsize=7.2, family=MONO, va="center")
ov.text(59, 475, "Précipitations", fontsize=7.2, family=MONO, va="center")
ov.text(20, 607, "(°C)", fontsize=7.2, family=MONO, va="center")
ov.text(710, 607, "(mm)", fontsize=7.2, family=MONO, va="center")

ov.plot([35, 65], [652, 652], color="#ff0000", lw=3.2)
ov.text(75, 652, "Moyenne des scénarios", fontsize=7.2, family=MONO, va="center")
ov.plot([225, 255], [637, 637], color="#0000ff", lw=3.2)
ov.text(265, 637, "Run de contrôle", fontsize=7.2, family=MONO, va="center")
ov.plot([225, 255], [647, 647], color="black", lw=3.2)
ov.text(265, 647, "Run GFS", fontsize=7.2, family=MONO, va="center")
ov.text(369, 652, "20 Perturbations", fontsize=7.2, family=MONO, va="center")
for i, (name, col) in enumerate(zip(pert_names, pert_colors)):
    x0 = 470 + 11 * i
    ov.add_patch(Rectangle((x0, 650), 10, 6, color=col, lw=0))
    ov.text(x0 + 5, 644, name, fontsize=5.6, family=MONO, ha="center", va="center")

ov.add_patch(Rectangle((20.7, 667), 419.3, 40, fill=False, ec="black", lw=1.5, clip_on=False))
ov.text(30, 677, "Diagramme des ensembles GEFS sur 384h : 50.8N 5.8E", fontsize=8.1,
        family=MONO, fontweight="bold", va="center")
ov.text(30, 692, "Température 2m (°C) , précipitations (mm)", fontsize=7.1,
        family=MONO, va="center")
ov.text(450, 672, "Ensemble GEFS du 10/01/2016 - 00Z", fontsize=7.1, family=MONO, va="center")
ov.text(450, 692, "Copyright 2016 Meteociel.fr", fontsize=8.2, family=MONO,
        fontweight="bold", va="center")

fig.savefig("out.png", dpi=100)
